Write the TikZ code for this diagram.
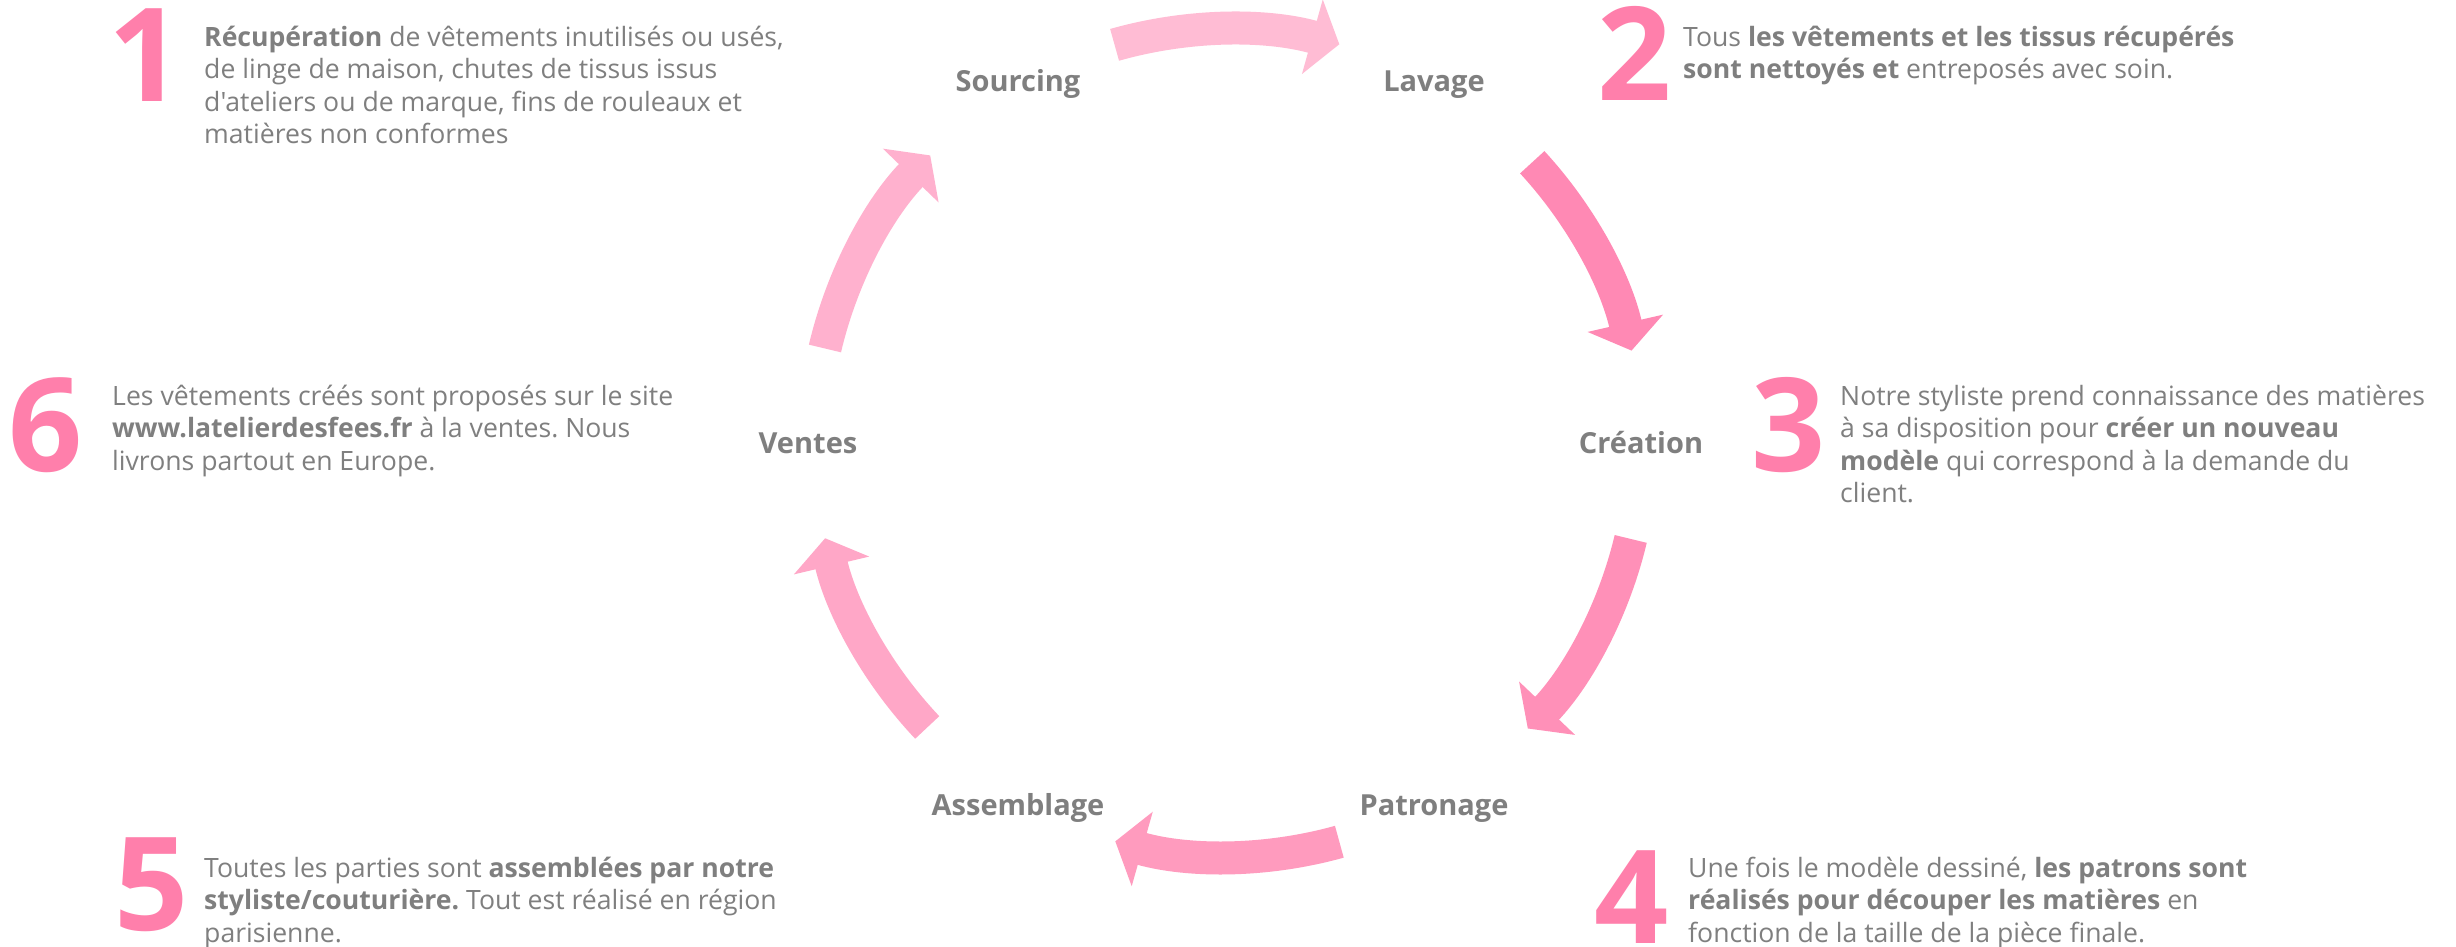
\documentclass[tikz,border=0pt]{standalone}
\usepackage{fontspec}
\setmainfont{Open Sans}[Ligatures=TeXOff]
\usetikzlibrary{arrows.meta}
\definecolor{txt}{HTML}{7F7F7F}
\definecolor{numpink}{HTML}{FF7FAB}
\definecolor{aone}{HTML}{FFBCD4}
\definecolor{atwo}{HTML}{FF89B4}
\definecolor{athree}{HTML}{FF90B8}
\definecolor{afour}{HTML}{FF9BBE}
\definecolor{afive}{HTML}{FFA7C7}
\definecolor{asix}{HTML}{FFB1CE}
\newcommand{\blocktext}[1]{\parbox[t]{900pt}{\raggedright\frenchspacing #1}}
\begin{document}
\begin{tikzpicture}[x=1pt,y=1pt,
  body/.style={anchor=base west, inner sep=0pt, text=txt, font=\fontsize{26.6}{32.5}\selectfont},
  num/.style={anchor=base, inner sep=0pt, text depth=0pt, text=numpink, font=\fontsize{130}{130}\selectfont\bfseries},
  lab/.style={anchor=base, inner sep=0pt, text=txt, font=\fontsize{29}{30}\selectfont\bfseries},
  flow/.style={line width=33pt, -{Triangle[width=76pt,length=28pt]}}]
\useasboundingbox (0,0) rectangle (2456,-946);
\fill[white] (0,0) rectangle (2456,-946);
\coordinate (C) at (1228,-443);

% stage labels
\node[lab] (sourcing) at (1018,-91) {Sourcing};
\node[lab] (lavage) at (1434,-91) {Lavage};
\node[lab] (creation) at (1641,-453) {Création};
\node[lab] (patronage) at (1434,-815) {Patronage};
\node[lab] (assemblage) at (1018,-815) {Assemblage};
\node[lab] (ventes) at (808,-453) {Ventes};

% arrows on the circle
\draw[flow, aone]   ([shift={(105.9:414pt)}]C) arc[start angle=105.9, end angle=74.4, radius=414pt];
\draw[flow, atwo]   ([shift={(42.7:414pt)}]C) arc[start angle=42.7, end angle=12.9, radius=414pt];
\draw[flow, athree] ([shift={(-13.4:414pt)}]C) arc[start angle=-13.4, end angle=-43.6, radius=414pt];
\draw[flow, afour]  ([shift={(-74.4:414pt)}]C) arc[start angle=-74.4, end angle=-105.8, radius=414pt];
\draw[flow, afive]  ([shift={(-136.6:414pt)}]C) arc[start angle=-136.6, end angle=-166.7, radius=414pt];
\draw[flow, asix]   ([shift={(166.8:414pt)}]C) arc[start angle=166.8, end angle=136, radius=414pt];

% numbers
\node[num] (n1) at (146,-101) {1};
\node[num] (n2) at (1635,-100) {2};
\node[num] (n3) at (1789,-471) {3};
\node[num] (n4) at (1632,-943) {4};
\node[num] (n5) at (152,-930) {5};
\node[num] (n6) at (46,-471) {6};

% descriptions
\node[body] (t1) at (204,-46) {\blocktext{\textbf{Récupération} de vêtements inutilisés ou usés,\\ de linge de maison, chutes de tissus issus\\ d'ateliers ou de marque, fins de rouleaux et\\ matières non conformes}};
\node[body] (t2) at (1683,-46) {\blocktext{Tous \textbf{les vêtements et les tissus récupérés}\\ \textbf{sont nettoyés et} entreposés avec soin.}};
\node[body] (t3) at (1840,-405) {\blocktext{Notre styliste prend connaissance des matières\\ à sa disposition pour \textbf{créer un nouveau}\\ \textbf{modèle} qui correspond à la demande du\\ client.}};
\node[body] (t4) at (1688,-877) {\blocktext{Une fois le modèle dessiné, \textbf{les patrons sont}\\ \textbf{réalisés pour découper les matières} en\\ fonction de la taille de la pièce finale.}};
\node[body] (t5) at (204,-877) {\blocktext{Toutes les parties sont \textbf{assemblées par notre}\\ \textbf{styliste/couturière.} Tout est réalisé en région\\ parisienne.}};
\node[body] (t6) at (112,-405) {\blocktext{Les vêtements créés sont proposés sur le site\\ \textbf{www.latelierdesfees.fr} à la ventes. Nous\\ livrons partout en Europe.}};
\end{tikzpicture}
\end{document}
